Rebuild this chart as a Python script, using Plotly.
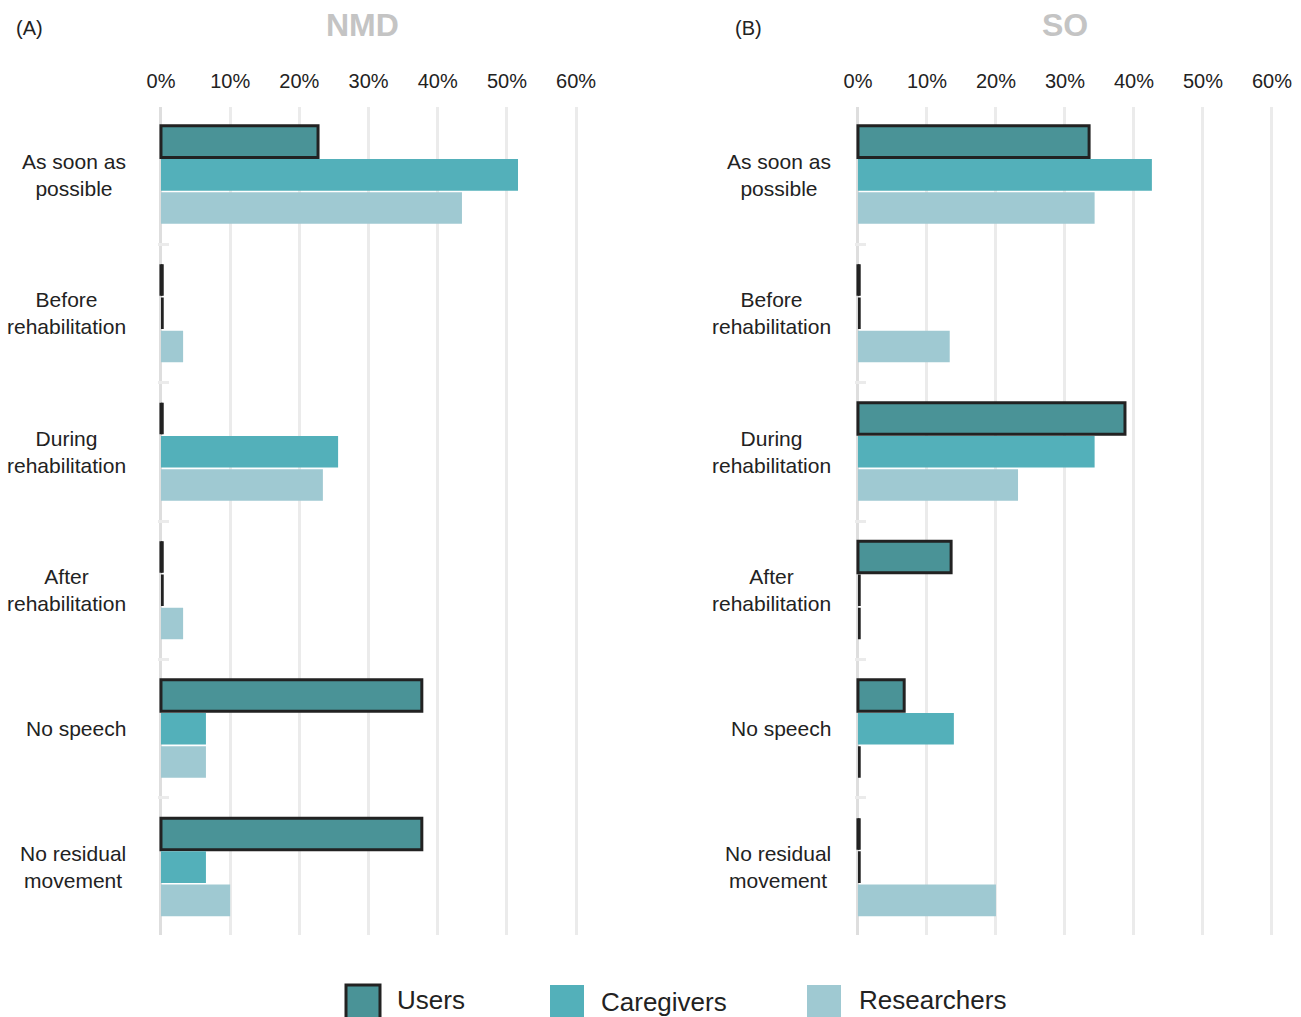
import plotly.graph_objects as go

categories = ["As soon as possible", "Before rehabilitation", "During rehabilitation",
              "After rehabilitation", "No speech", "No residual movement"]
category_labels = ["As soon as<br>possible", "Before<br>rehabilitation", "During<br>rehabilitation",
                   "After<br>rehabilitation", "No speech", "No residual<br>movement"]
series_names = ["Users", "Caregivers", "Researchers"]

# NMD panel (percent)
nmd_users = [22.7, 0, 0, 0, 37.7, 37.7]
nmd_caregivers = [51.6, 0, 25.6, 0, 6.5, 6.5]
nmd_researchers = [43.5, 3.2, 23.4, 3.2, 6.5, 10.0]

# SO panel (percent)
so_users = [33.5, 0, 38.7, 13.5, 6.7, 0]
so_caregivers = [42.6, 0, 34.3, 0, 13.9, 0]
so_researchers = [34.3, 13.3, 23.2, 0, 0, 20.0]

tick_vals = [0, 10, 20, 30, 40, 50, 60]
tick_text = ["0%", "10%", "20%", "30%", "40%", "50%", "60%"]
panel_titles = ["NMD", "SO"]
panel_tags = ["(A)", "(B)"]

colors = ["#4a9397", "#53b0ba", "#9fc9d2"]
FONT = "Liberation Sans, Arial, Helvetica, sans-serif"
W, H = 1301, 1017

fig = go.Figure()

panels = [
    ("x", "y", [nmd_users, nmd_caregivers, nmd_researchers]),
    ("x2", "y2", [so_users, so_caregivers, so_researchers]),
]
ZERO_W = 0.4
for xa, ya, data in panels:
    for i, (name, vals) in enumerate(zip(series_names, data)):
        fig.add_trace(go.Bar(
            x=vals, y=categories, orientation="h", name=name,
            xaxis=xa, yaxis=ya, offsetgroup=str(i),
            marker=dict(color=colors[i],
                        line=dict(color="#222222", width=3 if i == 0 else 0)),
            showlegend=False, hoverinfo="x+y",
        ))
        # zero-valued bars are drawn as a thin dark stroke
        fig.add_trace(go.Bar(
            x=[ZERO_W if v == 0 else None for v in vals], y=categories, orientation="h",
            xaxis=xa, yaxis=ya, offsetgroup=str(i),
            marker=dict(color="#222222", line=dict(width=0)),
            showlegend=False, hoverinfo="skip",
        ))

def px2fx(px):
    return px / W

def py2fy(py):
    return 1 - py / H

xaxis_common = dict(
    side="top", range=[-0.4, 60.4], tickvals=tick_vals, ticktext=tick_text,
    showgrid=True, gridcolor="#ebebeb", gridwidth=3,
    zeroline=True, zerolinecolor="#dedede", zerolinewidth=3,
    showline=False, ticks="", ticklabelstandoff=14, automargin=False,
    tickfont=dict(family=FONT, size=20, color="#222222"),
    fixedrange=True,
)
yaxis_common = dict(
    autorange=False, range=[5.49, -0.49], type="category",
    categoryorder="array", categoryarray=categories,
    showticklabels=False, showgrid=False, zeroline=False, showline=False,
    ticks="inside", tickson="boundaries", ticklen=11, tickwidth=3, tickcolor="#ebebeb",
    automargin=False, fixedrange=True,
)

y_dom = [py2fy(935), py2fy(107)]
fig.update_layout(
    template="none",
    width=W, height=H,
    margin=dict(l=0, r=0, t=0, b=0, pad=0, autoexpand=False),
    paper_bgcolor="white", plot_bgcolor="white",
    barmode="group", bargap=0.28, bargroupgap=0.05,
    xaxis=dict(domain=[px2fx(158.2), px2fx(578.9)], anchor="y", **xaxis_common),
    xaxis2=dict(domain=[px2fx(855.2), px2fx(1274.7)], anchor="y2", **xaxis_common),
    yaxis=dict(domain=y_dom, anchor="x", **yaxis_common),
    yaxis2=dict(domain=y_dom, anchor="x2", **yaxis_common),
    font=dict(family=FONT, color="#222222"),
    showlegend=False,
)

annotations = []
# category labels
for ya, xr in [("y", 128), ("y2", 833)]:
    for cat, lab in zip(categories, category_labels):
        annotations.append(dict(
            x=px2fx(xr), xref="paper", y=cat, yref=ya, text=lab,
            xanchor="right", yanchor="middle", align="center", showarrow=False,
            font=dict(family=FONT, size=21, color="#222222"),
        ))
# panel titles and tags
for title, cx in zip(panel_titles, [362, 1065]):
    annotations.append(dict(
        x=px2fx(cx), xref="paper", y=py2fy(25), yref="paper", text="<b>" + title + "</b>",
        xanchor="center", yanchor="middle", showarrow=False,
        font=dict(family=FONT, size=32, color="#c4c4c4"),
    ))
for tag, lx in zip(panel_tags, [14, 733]):
    annotations.append(dict(
        x=px2fx(lx), xref="paper", y=py2fy(28), yref="paper", text=tag,
        xanchor="left", yanchor="middle", showarrow=False,
        font=dict(family=FONT, size=20, color="#222222"),
    ))

# custom legend at bottom
shapes = []
legend_x = [(346, 395), (550, 599), (807, 857)]
for i, (name, (sx, tx)) in enumerate(zip(series_names, legend_x)):
    shapes.append(dict(
        type="rect", xref="paper", yref="paper",
        x0=px2fx(sx), x1=px2fx(sx + 34), y0=py2fy(1022), y1=py2fy(985),
        fillcolor=colors[i],
        line=dict(color="#222222" if i == 0 else colors[i], width=3 if i == 0 else 0),
    ))
    annotations.append(dict(
        x=px2fx(tx), xref="paper", y=py2fy(1000 + (2 if i == 1 else 0)), yref="paper",
        text=name, xanchor="left", yanchor="middle", showarrow=False,
        font=dict(family=FONT, size=26, color="#222222"),
    ))

fig.update_layout(annotations=annotations, shapes=shapes)

fig.write_html("out.html")
